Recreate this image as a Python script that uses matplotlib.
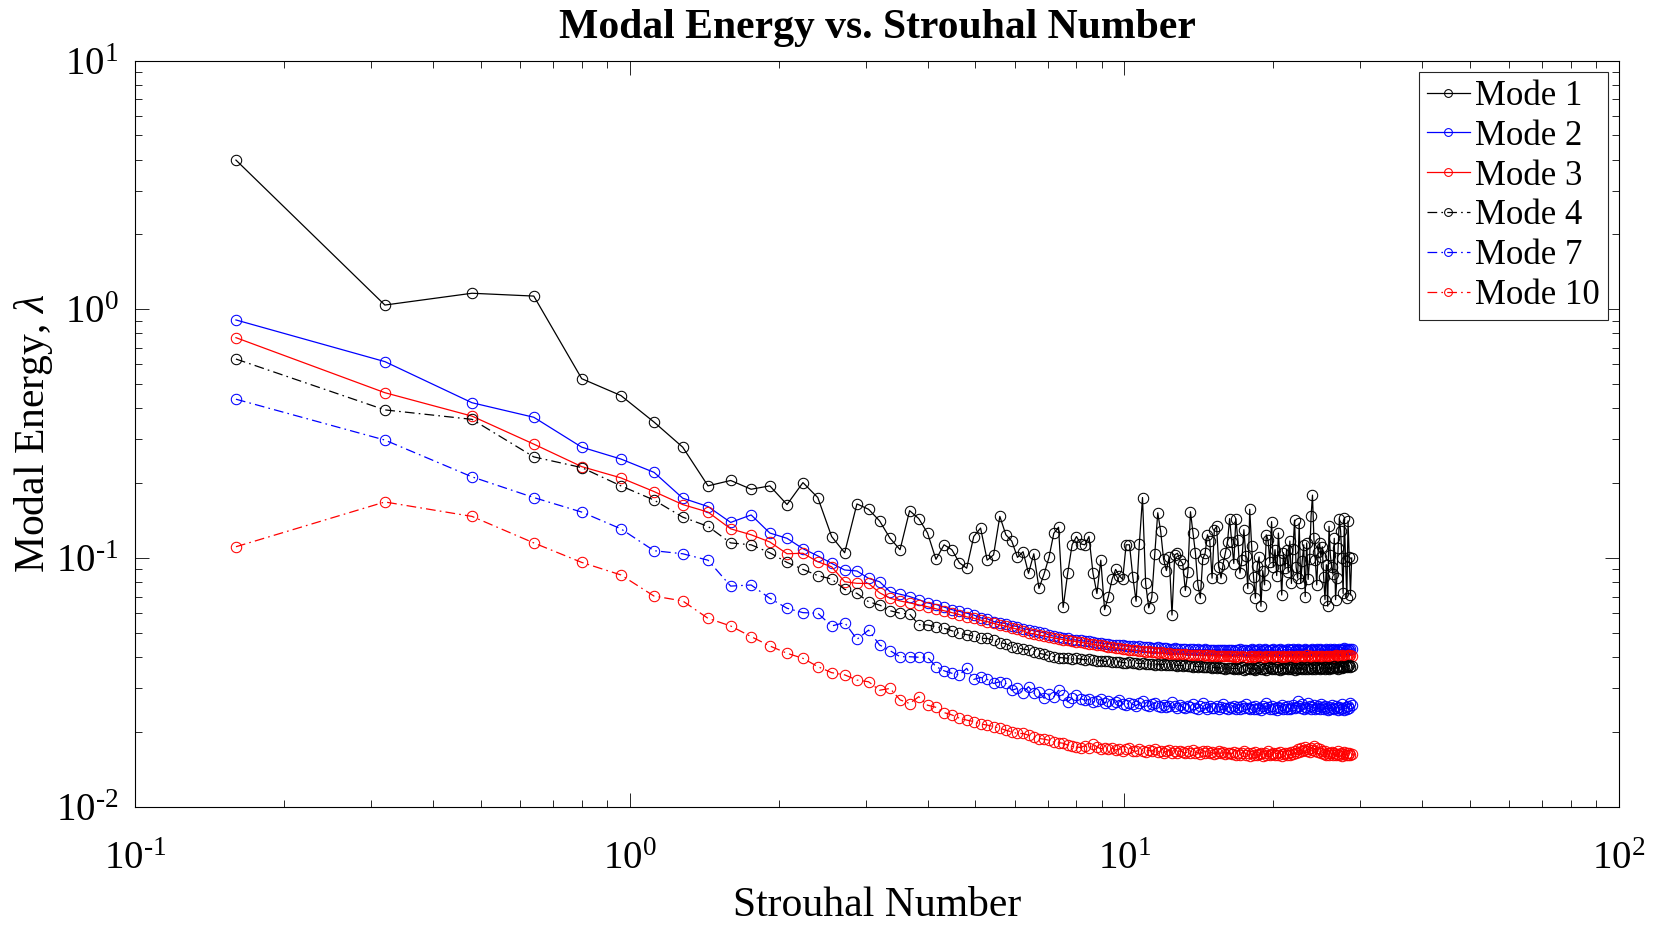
import numpy as np
import matplotlib
matplotlib.use("Agg")
import matplotlib.pyplot as plt
from matplotlib.ticker import LogLocator, NullFormatter, FuncFormatter

# Strouhal-number grid: uniform frequency bins
st_step = 0.16
n_bins = 180
strouhal = st_step * np.arange(1, n_bins + 1)

mode1 = [
    3.98, 1.04, 1.16, 1.13, 0.526, 0.450, 0.352, 0.279, 0.195, 0.205,
    0.189, 0.195, 0.164, 0.201, 0.175, 0.122, 0.105, 0.165, 0.157, 0.141,
    0.120, 0.108, 0.155, 0.144, 0.126, 0.0988, 0.113, 0.108, 0.0957, 0.091,
    0.122, 0.132, 0.098, 0.103, 0.147, 0.124, 0.117, 0.1006, 0.106, 0.0868,
    0.104, 0.0755, 0.0862, 0.1006, 0.1257, 0.133, 0.0633, 0.0868, 0.113, 0.122,
    0.114, 0.113, 0.122, 0.087, 0.072, 0.098, 0.062, 0.070, 0.082, 0.090,
    0.085, 0.082, 0.113, 0.113, 0.084, 0.067, 0.114, 0.175, 0.079, 0.063,
    0.0695, 0.104, 0.152, 0.128, 0.099, 0.089, 0.101, 0.059, 0.103, 0.1045,
    0.098, 0.095, 0.074, 0.088, 0.1535, 0.126, 0.1045, 0.078, 0.069, 0.099,
    0.1045, 0.124, 0.117, 0.083, 0.130, 0.134, 0.092, 0.083, 0.095, 0.105,
    0.116, 0.144,
    0.116, 0.095, 0.144, 0.118, 0.087, 0.098, 0.130, 0.102, 0.0755, 0.157,
    0.112, 0.084, 0.069, 0.093, 0.101, 0.064, 0.089, 0.078, 0.124, 0.118,
    0.096, 0.140, 0.092, 0.108, 0.085, 0.126, 0.098, 0.071, 0.105, 0.091,
    0.108, 0.088, 0.117, 0.079, 0.109, 0.142, 0.092, 0.083, 0.138, 0.079,
    0.097, 0.113, 0.070, 0.115, 0.082, 0.099, 0.147, 0.179, 0.120, 0.098,
    0.078, 0.106, 0.115, 0.101, 0.111, 0.084, 0.068, 0.094, 0.064, 0.134,
    0.103, 0.092, 0.086, 0.120, 0.068, 0.083, 0.110, 0.144, 0.128, 0.100,
    0.072, 0.145, 0.097, 0.069, 0.141, 0.101, 0.071, 0.100,
]

mode2 = [
    0.906, 0.616, 0.421, 0.368, 0.279, 0.250, 0.221, 0.174, 0.161, 0.139,
    0.149, 0.126, 0.120, 0.109, 0.102, 0.0952, 0.0895, 0.0887, 0.0828, 0.0803,
    0.0732, 0.0715, 0.0700, 0.0680, 0.0660, 0.0650, 0.0635, 0.0620, 0.0610, 0.0600,
    0.0590, 0.0575, 0.0570, 0.0555, 0.0550, 0.0545, 0.0535, 0.0530, 0.0520, 0.0515,
    0.0510, 0.0505, 0.0500, 0.0490, 0.0485, 0.0480, 0.0478, 0.0475, 0.0470, 0.0468,
    0.0466, 0.0463, 0.0462, 0.0458, 0.0457, 0.0455, 0.0452, 0.0453, 0.0449, 0.0447,
    0.0448, 0.0445, 0.0443, 0.0444, 0.0441, 0.0440, 0.0442, 0.0438, 0.0437, 0.0439,
    0.0436, 0.0435, 0.0437, 0.0434, 0.0433, 0.0435, 0.0432, 0.0431, 0.0433, 0.0430,
    0.0432, 0.0429, 0.0431, 0.0428, 0.0430, 0.0429, 0.0427, 0.0430, 0.0428, 0.0426,
    0.0429, 0.0427, 0.0428, 0.0426, 0.0428, 0.0425, 0.0427, 0.0426, 0.0428, 0.0425,
    0.0427, 0.0426,
    0.0428, 0.0424, 0.0427, 0.0425, 0.0429, 0.0423, 0.0426, 0.0428, 0.0424, 0.0427,
    0.0430, 0.0425, 0.0422, 0.0427, 0.0429, 0.0424, 0.0426, 0.0431, 0.0425, 0.0423,
    0.0428, 0.0426, 0.0430, 0.0424, 0.0427, 0.0425, 0.0429, 0.0422, 0.0426, 0.0428,
    0.0424, 0.0431, 0.0427, 0.0425, 0.0429, 0.0423, 0.0426, 0.0430, 0.0425, 0.0428,
    0.0424, 0.0427, 0.0432, 0.0426, 0.0423, 0.0428, 0.0425, 0.0430, 0.0427, 0.0424,
    0.0429, 0.0426, 0.0431, 0.0425, 0.0428, 0.0423, 0.0427, 0.0430, 0.0426, 0.0424,
    0.0429, 0.0427, 0.0425, 0.0431, 0.0426, 0.0428, 0.0424, 0.0430, 0.0427, 0.0425,
    0.0429, 0.0433, 0.0426, 0.0428, 0.0431, 0.0427, 0.0429, 0.0432,
]

mode3 = [
    0.769, 0.462, 0.372, 0.287, 0.233, 0.210, 0.185, 0.164, 0.153, 0.131,
    0.124, 0.116, 0.104, 0.1045, 0.0966, 0.0922, 0.0803, 0.0791, 0.0790, 0.0725,
    0.0689,
    0.0672, 0.0660, 0.0648, 0.0637, 0.0625, 0.0614, 0.0603, 0.0592, 0.0580, 0.0573,
    0.0562, 0.0555, 0.0546, 0.0538, 0.0532, 0.0524, 0.0517, 0.0510, 0.0498, 0.0496,
    0.0490, 0.0486, 0.0481, 0.0477, 0.0473, 0.0470, 0.0466, 0.0464, 0.0461,
    0.0458, 0.0455, 0.0452, 0.0450, 0.0446, 0.0445, 0.0441, 0.0440, 0.0437, 0.0435,
    0.0434, 0.0431, 0.0430, 0.0428, 0.0426, 0.0425, 0.0423, 0.0422, 0.0420, 0.0421,
    0.0418, 0.0417, 0.0416, 0.0417, 0.0414, 0.0413, 0.0414, 0.0411, 0.0412, 0.0410,
    0.0411, 0.0409, 0.0410, 0.0408, 0.0409, 0.0407, 0.0408, 0.0406, 0.0408, 0.0405,
    0.0407, 0.0406, 0.0404, 0.0406, 0.0405, 0.0403, 0.0405, 0.0404, 0.0402, 0.0404,
    0.0403, 0.0402,
    0.0403, 0.0400, 0.0402, 0.0398, 0.0401, 0.0404, 0.0399, 0.0401, 0.0397, 0.0402,
    0.0400, 0.0403, 0.0398, 0.0400, 0.0405, 0.0399, 0.0401, 0.0397, 0.0402, 0.0400,
    0.0404, 0.0398, 0.0401, 0.0403, 0.0399, 0.0402, 0.0397, 0.0400, 0.0404, 0.0401,
    0.0398, 0.0402, 0.0400, 0.0405, 0.0399, 0.0401, 0.0403, 0.0398, 0.0402, 0.0400,
    0.0404, 0.0399, 0.0401, 0.0406, 0.0400, 0.0398, 0.0403, 0.0401, 0.0399, 0.0404,
    0.0402, 0.0400, 0.0405, 0.0399, 0.0403, 0.0401, 0.0398, 0.0404, 0.0402, 0.0400,
    0.0405, 0.0401, 0.0403, 0.0399, 0.0406, 0.0402, 0.0400, 0.0404, 0.0401, 0.0407,
    0.0403, 0.0400, 0.0405, 0.0402, 0.0406, 0.0403, 0.0408, 0.0405,
]

mode4 = [
    0.631, 0.394, 0.361, 0.255, 0.231, 0.195, 0.171, 0.146, 0.134, 0.115,
    0.113, 0.105, 0.096, 0.090, 0.085, 0.0823, 0.0748, 0.0721, 0.0667, 0.0647,
    0.0614, 0.0600, 0.0595, 0.0540, 0.0538, 0.0529, 0.0522, 0.0510, 0.0498, 0.0492,
    0.0485, 0.0475, 0.0475, 0.0466, 0.0457, 0.0452, 0.0440, 0.0436, 0.0430, 0.0427,
    0.0420, 0.0414, 0.0410, 0.0405, 0.0401, 0.0398, 0.0397, 0.0395, 0.0393, 0.0395,
    0.0392, 0.0390, 0.0391, 0.0388, 0.0386, 0.0387, 0.0384, 0.0385, 0.0382, 0.0381,
    0.0383, 0.0380, 0.0379, 0.0381, 0.0377, 0.0378, 0.0376, 0.0378, 0.0375, 0.0374,
    0.0376, 0.0373, 0.0375, 0.0372, 0.0374, 0.0371, 0.0373, 0.0370, 0.0372, 0.0369,
    0.0371, 0.0368, 0.0370, 0.0367, 0.0369, 0.0366, 0.0368, 0.0365, 0.0367, 0.0364,
    0.0366, 0.0363, 0.0365, 0.0362, 0.0364, 0.0361, 0.0363, 0.0360, 0.0362, 0.0359,
    0.0361, 0.0360,
    0.0361, 0.0358, 0.0362, 0.0357, 0.0360, 0.0363, 0.0356, 0.0359, 0.0361, 0.0357,
    0.0362, 0.0358, 0.0355, 0.0360, 0.0363, 0.0357, 0.0359, 0.0362, 0.0356, 0.0360,
    0.0364, 0.0358, 0.0361, 0.0357, 0.0363, 0.0359, 0.0356, 0.0361, 0.0358, 0.0362,
    0.0360, 0.0357, 0.0364, 0.0359, 0.0361, 0.0356, 0.0362, 0.0358, 0.0360, 0.0363,
    0.0357, 0.0361, 0.0359, 0.0365, 0.0358, 0.0362, 0.0360, 0.0357, 0.0363, 0.0359,
    0.0361, 0.0364, 0.0358, 0.0362, 0.0360, 0.0366, 0.0359, 0.0363, 0.0361, 0.0358,
    0.0364, 0.0360, 0.0362, 0.0367, 0.0361, 0.0365, 0.0359, 0.0363, 0.0368, 0.0362,
    0.0366, 0.0364, 0.0369, 0.0363, 0.0367, 0.0370, 0.0365, 0.0368,
]

mode7 = [
    0.435, 0.298, 0.212, 0.175, 0.153, 0.131, 0.107, 0.104, 0.098, 0.0771,
    0.0779, 0.0689, 0.0628, 0.0603, 0.0600, 0.0533, 0.0550, 0.0471, 0.0513, 0.0447,
    0.0424, 0.0401, 0.0401, 0.0399, 0.0399, 0.0366, 0.0352, 0.0344, 0.0339, 0.0360,
    0.0325, 0.0331, 0.0325, 0.0313, 0.0318, 0.0313, 0.0294, 0.0299, 0.0287, 0.0304,
    0.0286, 0.0290, 0.0273, 0.0284, 0.0277, 0.0294, 0.0281, 0.0264, 0.0273, 0.0281,
    0.0272, 0.0268, 0.0270, 0.0264, 0.0266, 0.0271, 0.0262, 0.0265, 0.0259, 0.0263,
    0.0268, 0.0260, 0.0257, 0.0262, 0.0258, 0.0255, 0.0261, 0.0266, 0.0256, 0.0253,
    0.0258, 0.0262, 0.0254, 0.0252, 0.0257, 0.0251, 0.0255, 0.0264, 0.0253, 0.0250,
    0.0256, 0.0252, 0.0249, 0.0254, 0.0251, 0.0258, 0.0250, 0.0248, 0.0253, 0.0262,
    0.0251, 0.0247, 0.0255, 0.0250, 0.0249, 0.0254, 0.0248, 0.0252, 0.0258, 0.0250,
    0.0247, 0.0252,
    0.0249, 0.0254, 0.0247, 0.0251, 0.0246, 0.0253, 0.0249, 0.0258, 0.0250, 0.0246,
    0.0252, 0.0248, 0.0255, 0.0247, 0.0250, 0.0245, 0.0253, 0.0249, 0.0262, 0.0251,
    0.0247, 0.0254, 0.0248, 0.0250, 0.0245, 0.0252, 0.0249, 0.0256, 0.0247, 0.0251,
    0.0248, 0.0253, 0.0246, 0.0250, 0.0257, 0.0249, 0.0252, 0.0265, 0.0255, 0.0250,
    0.0259, 0.0247, 0.0252, 0.0249, 0.0262, 0.0254, 0.0248, 0.0251, 0.0257, 0.0246,
    0.0250, 0.0253, 0.0248, 0.0260, 0.0251, 0.0247, 0.0254, 0.0249, 0.0245, 0.0252,
    0.0248, 0.0256, 0.0250, 0.0246, 0.0253, 0.0249, 0.0244, 0.0251, 0.0247, 0.0258,
    0.0250, 0.0245, 0.0252, 0.0248, 0.0255, 0.0249, 0.0262, 0.0256,
]

mode10 = [
    0.111, 0.168, 0.147, 0.115, 0.096, 0.0855, 0.0703, 0.0672, 0.0572, 0.0533,
    0.0483, 0.0443, 0.0414, 0.0395, 0.0366, 0.0346, 0.0339, 0.0323, 0.0318, 0.0294,
    0.0299, 0.0269, 0.0260, 0.0277, 0.0256, 0.0251, 0.0239, 0.0234, 0.0227, 0.0223,
    0.0220, 0.0215, 0.0213, 0.0210, 0.0207, 0.0203, 0.0200, 0.0197, 0.0197, 0.0194,
    0.0191, 0.0188, 0.0187, 0.0185, 0.0182, 0.0181, 0.0180, 0.0177, 0.0175, 0.0174,
    0.0173, 0.0176, 0.0172, 0.0179, 0.0174, 0.0171, 0.0173, 0.0170, 0.0172, 0.0169,
    0.0171, 0.0168, 0.0170, 0.0173, 0.0168, 0.0167, 0.0170, 0.0168, 0.0166, 0.0169,
    0.0167, 0.0171, 0.0166, 0.0168, 0.0165, 0.0167, 0.0169, 0.0165, 0.0167, 0.0164,
    0.0168, 0.0166, 0.0164, 0.0167, 0.0165, 0.0169, 0.0164, 0.0166, 0.0163, 0.0167,
    0.0165, 0.0168, 0.0164, 0.0166, 0.0163, 0.0165, 0.0167, 0.0164, 0.0166, 0.0163,
    0.0165, 0.0164,
    0.0163, 0.0166, 0.0162, 0.0165, 0.0161, 0.0164, 0.0167, 0.0162, 0.0165, 0.0160,
    0.0164, 0.0162, 0.0166, 0.0161, 0.0163, 0.0165, 0.0160, 0.0164, 0.0162, 0.0167,
    0.0161, 0.0163, 0.0165, 0.0161, 0.0164, 0.0162, 0.0166, 0.0160, 0.0163, 0.0165,
    0.0162, 0.0164, 0.0161, 0.0166, 0.0163, 0.0168, 0.0164, 0.0170, 0.0166, 0.0172,
    0.0167, 0.0169, 0.0174, 0.0168, 0.0171, 0.0166, 0.0173, 0.0169, 0.0175, 0.0168,
    0.0172, 0.0166, 0.0170, 0.0165, 0.0168, 0.0163, 0.0167, 0.0162, 0.0165, 0.0161,
    0.0164, 0.0166, 0.0162, 0.0165, 0.0161, 0.0163, 0.0167, 0.0162, 0.0164, 0.0160,
    0.0163, 0.0166, 0.0161, 0.0164, 0.0162, 0.0165, 0.0161, 0.0163,
]

labels = ["Mode 1", "Mode 2", "Mode 3", "Mode 4", "Mode 7", "Mode 10"]
series = [mode1, mode2, mode3, mode4, mode7, mode10]

dashdot = (0, (7, 3, 1.2, 3))
styles = [
    dict(color="k", ls="-"),
    dict(color="b", ls="-"),
    dict(color="r", ls="-"),
    dict(color="k", ls=dashdot),
    dict(color="b", ls=dashdot),
    dict(color="r", ls=dashdot),
]

plt.rcParams["font.family"] = ["Liberation Serif", "DejaVu Serif"]
plt.rcParams["mathtext.fontset"] = "custom"
plt.rcParams["mathtext.rm"] = "Liberation Serif"
plt.rcParams["mathtext.it"] = "Liberation Serif:italic"
plt.rcParams["mathtext.bf"] = "Liberation Serif:bold"
plt.rcParams["lines.scale_dashes"] = False
plt.rcParams["axes.linewidth"] = 0.8

fig = plt.figure(figsize=(16.54, 9.26), dpi=100)
ax = fig.add_axes([0.0816, 0.1288, 0.9789 - 0.0816, 0.9346 - 0.1288])

for lab, vals, sty in zip(labels, series, styles):
    ax.plot(strouhal, vals, color=sty["color"], linestyle=sty["ls"], lw=0.9,
            marker="o", markersize=7.5, markerfacecolor="none",
            markeredgewidth=0.75, label=lab)

ax.set_xscale("log")
ax.set_yscale("log")
ax.set_xlim(0.1, 100)
ax.set_ylim(0.01, 10)


def decade_label(value, pos):
    # power-of-ten label with a short hyphen for negative exponents
    exp = int(round(np.log10(value)))
    exp_txt = str(abs(exp)) if exp >= 0 else "\u2010" + str(abs(exp))
    return r"$10^{%s}$" % exp_txt


for axis in (ax.xaxis, ax.yaxis):
    axis.set_major_locator(LogLocator(base=10, numticks=10))
    axis.set_minor_locator(LogLocator(base=10, subs=np.arange(2, 10), numticks=20))
    axis.set_major_formatter(FuncFormatter(decade_label))
    axis.set_minor_formatter(NullFormatter())

ax.tick_params(which="both", direction="in", top=True, right=True,
               color="#262626", width=0.7)
ax.tick_params(which="major", length=10, labelsize=28)
ax.tick_params(which="minor", length=5)
ax.tick_params(axis="x", which="major", pad=25)
ax.tick_params(axis="y", which="major", pad=12)

ax.set_title("Modal Energy vs. Strouhal Number", fontsize=30,
             fontweight="bold", pad=16)
ax.set_xlabel("Strouhal Number", fontsize=30, labelpad=6)
ax.set_ylabel(r"Modal Energy, $\lambda$", fontsize=30, labelpad=1)

leg = ax.legend(loc="upper right", fontsize=25, frameon=True, fancybox=False,
                framealpha=1, edgecolor="#262626", handlelength=1.25,
                handletextpad=0.15, labelspacing=0.2, borderpad=0.22,
                borderaxespad=0.33, markerscale=0.75)
leg.get_frame().set_linewidth(0.8)

fig.savefig("out.png", dpi=100)
